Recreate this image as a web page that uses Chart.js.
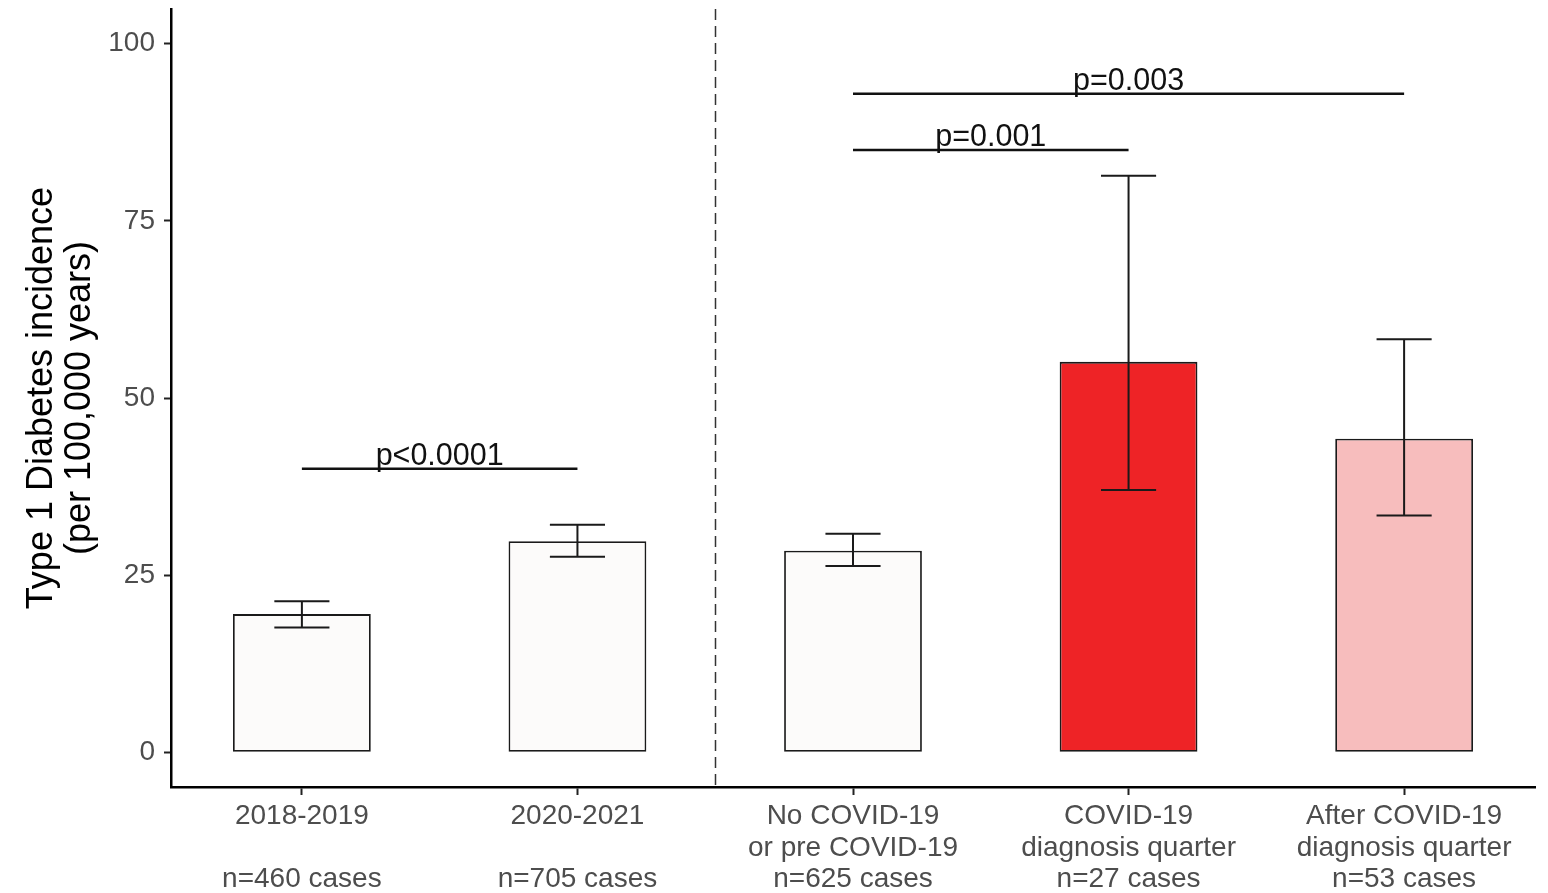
<!DOCTYPE html>
<html>
<head>
<meta charset="utf-8">
<script src="https://cdn.jsdelivr.net/npm/chart.js@4.4.1/dist/chart.umd.min.js"></script>
<style>
  html, body { margin: 0; padding: 0; background: #fff; }
  #wrap { width: 1548px; height: 893px; }
</style>
</head>
<body>
<div id="wrap"><canvas id="chart" width="1548" height="893"></canvas></div>
<script>
// categories (multi-line tick labels) and the per-group incidence with 95% CI
const groupLabels = [
  ['2018-2019', '', 'n=460 cases'],
  ['2020-2021', '', 'n=705 cases'],
  ['No COVID-19', 'or pre COVID-19', 'n=625 cases'],
  ['COVID-19', 'diagnosis quarter', 'n=27 cases'],
  ['After COVID-19', 'diagnosis quarter', 'n=53 cases']
];
const incidence = [19.5, 29.8, 28.45, 55.1, 44.25];
const ciLow = [17.6, 27.6, 26.3, 37.0, 33.4];
const ciHigh = [21.3, 32.1, 30.85, 81.35, 58.3];
const barFills = ['#fcfbfa', '#fcfbfa', '#fcfbfa', '#ee2326', '#f7bdbd'];
const yTicks = [0, 25, 50, 75, 100];

// significance brackets
const bracketFrom = [0, 2, 2];
const bracketTo = [1, 3, 4];
const bracketY = [40.0, 85.0, 92.95];
const bracketText = ['p<0.0001', 'p=0.001', 'p=0.003'];

// separator between the period and the COVID-19 groups
const dividerAt = 1.5;

const FONT = "'Liberation Sans', Arial, sans-serif";

const overlay = {
  id: 'overlay',
  afterDatasetsDraw(chart){
    const ctx = chart.ctx;
    const xs = chart.scales.x, ys = chart.scales.y;
    const area = chart.chartArea;
    ctx.save();

    // dashed divider
    ctx.strokeStyle = '#333';
    ctx.lineWidth = 1.5;
    ctx.setLineDash([11, 6]);
    const dx = Math.round(xs.getPixelForValue(dividerAt)) + 0.5;
    ctx.beginPath();
    ctx.moveTo(dx, area.top);
    ctx.lineTo(dx, area.bottom);
    ctx.stroke();
    ctx.setLineDash([]);

    // error bars
    ctx.strokeStyle = '#1a1a1a';
    ctx.lineWidth = 2;
    const capHalf = xs.getPixelForValue(0.1) - xs.getPixelForValue(0);
    incidence.forEach((v, i) => {
      const x = xs.getPixelForValue(i);
      const yl = ys.getPixelForValue(ciLow[i]);
      const yh = ys.getPixelForValue(ciHigh[i]);
      ctx.beginPath();
      ctx.moveTo(x, yl); ctx.lineTo(x, yh);
      ctx.moveTo(x - capHalf, yl); ctx.lineTo(x + capHalf, yl);
      ctx.moveTo(x - capHalf, yh); ctx.lineTo(x + capHalf, yh);
      ctx.stroke();
    });

    // brackets with p-values
    ctx.lineWidth = 2.5;
    ctx.strokeStyle = '#111';
    ctx.fillStyle = '#111';
    ctx.font = `30.5px ${FONT}`;
    ctx.textAlign = 'center';
    ctx.textBaseline = 'alphabetic';
    bracketText.forEach((t, i) => {
      const x1 = xs.getPixelForValue(bracketFrom[i]);
      const x2 = xs.getPixelForValue(bracketTo[i]);
      const y = ys.getPixelForValue(bracketY[i]);
      ctx.beginPath();
      ctx.moveTo(x1, y); ctx.lineTo(x2, y);
      ctx.stroke();
      ctx.fillText(t, (x1 + x2) / 2, y - 4);
    });
    ctx.restore();
  }
};

new Chart(document.getElementById('chart'), {
  type: 'bar',
  data: {
    datasets: [{
      data: incidence.map((v, i) => ({ x: i, y: v })),
      backgroundColor: barFills,
      borderColor: '#1a1a1a',
      borderWidth: 1.8,
      borderSkipped: false,
      barPercentage: 0.5,
      categoryPercentage: 1
    }]
  },
  options: {
    responsive: false,
    animation: false,
    events: [],
    layout: { padding: { top: 9, right: 13, left: 0, bottom: 0 } },
    plugins: { legend: { display: false }, tooltip: { enabled: false } },
    scales: {
      x: {
        type: 'linear',
        offset: false,
        min: -0.475,
        max: 4.475,
        afterBuildTicks(s){ s.ticks = groupLabels.map((_, i) => ({ value: i })); },
        afterFit(s){ s.height = 106; s.paddingLeft = 0; s.paddingRight = 0; },
        border: { display: true, color: '#000', width: 2.5 },
        grid: { display: true, drawOnChartArea: false, drawTicks: true, tickLength: 8, tickColor: '#222', tickWidth: 2, offset: false },
        ticks: {
          autoSkip: false,
          maxRotation: 0,
          padding: 6,
          color: '#4d4d4d',
          font: { family: FONT, size: 28, lineHeight: 1.12 },
          callback: (v, i) => groupLabels[i]
        }
      },
      y: {
        min: -4.9,
        max: 104.9,
        afterBuildTicks(s){ s.ticks = yTicks.map(v => ({ value: v })); },
        afterFit(s){ s.width = 171; s.paddingTop = 0; s.paddingBottom = 0; },
        border: { display: true, color: '#000', width: 2.5 },
        grid: { display: true, drawOnChartArea: false, drawTicks: true, tickLength: 7, tickColor: '#222', tickWidth: 2 },
        ticks: {
          padding: 9,
          color: '#4d4d4d',
          font: { family: FONT, size: 28 }
        },
        title: {
          display: true,
          text: ['Type 1 Diabetes incidence', '(per 100,000 years)'],
          color: '#000',
          font: { family: FONT, size: 36, lineHeight: 1.06 },
          padding: { top: 23, bottom: 0 }
        }
      }
    }
  },
  plugins: [overlay]
});
</script>
</body>
</html>
